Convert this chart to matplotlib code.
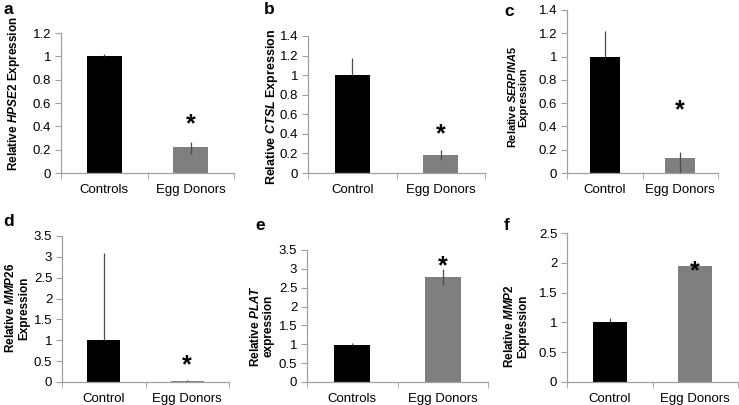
import matplotlib
matplotlib.use("Agg")
import matplotlib.pyplot as plt
from matplotlib.ticker import FuncFormatter, MultipleLocator

plt.rcParams["font.family"] = ["Liberation Sans", "DejaVu Sans"]
plt.rcParams["mathtext.fontset"] = "custom"
plt.rcParams["mathtext.it"] = "Liberation Sans:style=italic:weight=bold"
plt.rcParams["mathtext.rm"] = "Liberation Sans:weight=bold"

# panel data: group labels, means, error (lower, upper), asterisk height
panel_letters = ["a", "b", "c", "d", "e", "f"]
groups = [["Controls", "Egg Donors"], ["Control", "Egg Donors"],
          ["Control", "Egg Donors"], ["Control", "Egg Donors"],
          ["Controls", "Egg Donors"], ["Control", "Egg Donors"]]
ylabels = [r"Relative $\mathit{HPSE2}$ Expression",
           r"Relative $\mathit{CTSL}$ Expression",
           "Relative $\\mathit{SERPINA5}$\nExpression",
           "Relative $\\mathit{MMP26}$\nExpression",
           "Relative $\\mathit{PLAT}$\nexpression",
           "Relative $\\mathit{MMP2}$\nExpression"]
means = [[1.0, 0.22], [1.0, 0.18], [1.0, 0.13],
         [1.0, 0.02], [0.98, 2.78], [1.0, 1.94]]
err_lo = [[0.0, 0.06], [0.0, 0.05], [0.0, 0.13],
          [0.0, 0.0], [0.0, 0.2], [0.0, 0.05]]
err_hi = [[0.02, 0.05], [0.18, 0.06], [0.22, 0.05],
          [2.1, 0.02], [0.05, 0.22], [0.07, 0.05]]
star_y = [0.42, 0.40, 0.54, 0.40, 3.08, 1.86]
ymax = [1.2, 1.4, 1.4, 3.5, 3.5, 2.5]
ystep = [0.2, 0.2, 0.2, 0.5, 0.5, 0.5]

W, H = 739, 405
# axes boxes in pixels: left, right, top, bottom
boxes = [(61, 234, 33, 173), (308, 485, 36, 173), (567, 718, 10, 173),
         (62, 229, 236, 382), (307, 488, 250, 382), (567, 738, 233, 382)]
ylabel_pos = [(14, 94), (272, 107), (517, 97), (17, 308), (262, 326), (516, 326)]
ylabel_size = [8.5, 9, 7.9, 8.5, 8.5, 8.5]
letter_pos = [(4, 9), (264, 10), (504, 11), (3, 221), (255, 225), (504, 225)]

fig = plt.figure(figsize=(W / 100, H / 100), dpi=100)
for i in range(6):
    l, r, t, b = boxes[i]
    ax = fig.add_axes([l / W, 1 - b / H, (r - l) / W, (b - t) / H])
    x = [0, 1]
    ax.bar(x, means[i], width=0.4, color=["#000000", "#7f7f7f"], zorder=2)
    ax.errorbar(x, means[i], yerr=[err_lo[i], err_hi[i]], fmt="none",
                ecolor="#4d4d4d", elinewidth=0.9, capsize=0, zorder=3)
    ax.text(1, star_y[i], "*", ha="center", va="center", fontsize=18,
            fontweight="bold", zorder=4)
    ax.set_xlim(-0.5, 1.5)
    ax.set_ylim(0, ymax[i])
    ax.yaxis.set_major_locator(MultipleLocator(ystep[i]))
    ax.yaxis.set_major_formatter(FuncFormatter(lambda v, p: f"{v:g}"))
    ax.set_xticks(x)
    ax.set_xticklabels(groups[i], fontsize=9.5)
    ax.set_xticks([-0.5, 0.5, 1.5], minor=True)
    ax.tick_params(axis="x", which="major", length=0, pad=8)
    ax.tick_params(axis="x", which="minor", length=4, color="#a0a0a0",
                   direction="out")
    ax.tick_params(axis="y", length=4, color="#a0a0a0", labelsize=9.5, pad=3)
    for s in ("top", "right"):
        ax.spines[s].set_visible(False)
    for s in ("left", "bottom"):
        ax.spines[s].set_color("#a0a0a0")
        ax.spines[s].set_linewidth(0.9)
    lx, ly = ylabel_pos[i]
    fig.text(lx / W, 1 - ly / H, ylabels[i], rotation=90, ha="center",
             va="center", fontsize=ylabel_size[i], fontweight="bold",
             multialignment="center", linespacing=1.1)
    px, py = letter_pos[i]
    fig.text(px / W, 1 - py / H, panel_letters[i], ha="left", va="center",
             fontsize=12.5, fontweight="bold")

fig.savefig("out.png", dpi=100)
